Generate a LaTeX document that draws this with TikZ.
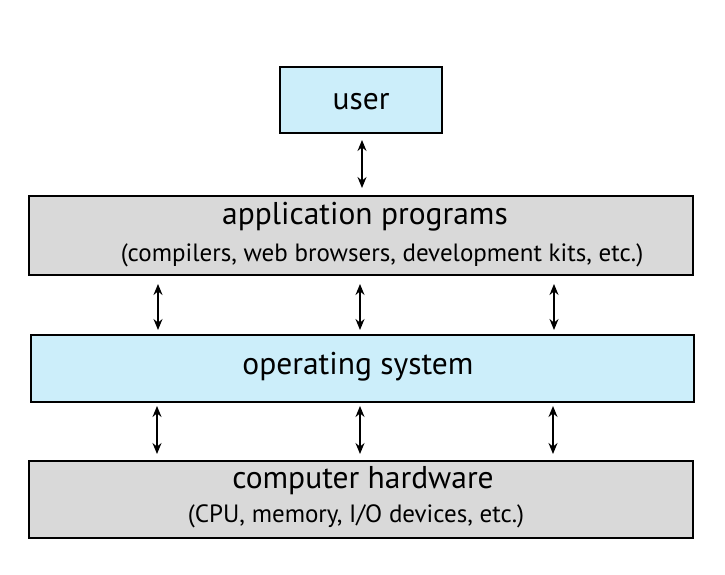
\documentclass[tikz,border=0pt]{standalone}
\usepackage{fontspec}
\setmainfont{PT Sans}
\usetikzlibrary{arrows.meta}
\definecolor{lblue}{RGB}{204,238,250}
\definecolor{lgray}{RGB}{217,217,217}
\begin{document}
\begin{tikzpicture}[x=1pt,y=-1pt,
  blk/.style={draw=black,line width=1.5pt},
  conn/.style={{Stealth[length=11pt,width=9pt]}-{Stealth[length=11pt,width=9pt]},line width=1.5pt},
  big/.style={font=\fontsize{31.5}{36}\selectfont},
  small/.style={font=\fontsize{25}{30}\selectfont}]
\useasboundingbox (0,0) rectangle (725,575);
\draw[blk,fill=lblue] (280,67) rectangle (442,133);
\node[big] (user) at (361,102) {user};
\draw[blk,fill=lgray] (29,196) rectangle (693,275);
\node[big] (app) at (365,217) {application programs};
\node[small] (appsub) at (382,255) {(compilers, web browsers, development kits, etc.)};
\draw[blk,fill=lblue] (31,335) rectangle (694,402);
\node[big] (os) at (358,367) {operating system};
\draw[blk,fill=lgray] (29,461) rectangle (693,538);
\node[big] (hw) at (363,481) {computer hardware};
\node[small] (hwsub) at (356,516) {(CPU, memory, I/O devices, etc.)};
\foreach \n/\x/\a/\b in {u/362/140/188, a1/158/284/330, a2/360/284/330, a3/554/284/330,
  o1/157/406/454, o2/360/406/454, o3/553/406/454}{
  \coordinate (\n s) at (\x,\a); \coordinate (\n e) at (\x,\b);
  \draw[conn] (\n s) -- (\n e);}
\end{tikzpicture}
\end{document}
